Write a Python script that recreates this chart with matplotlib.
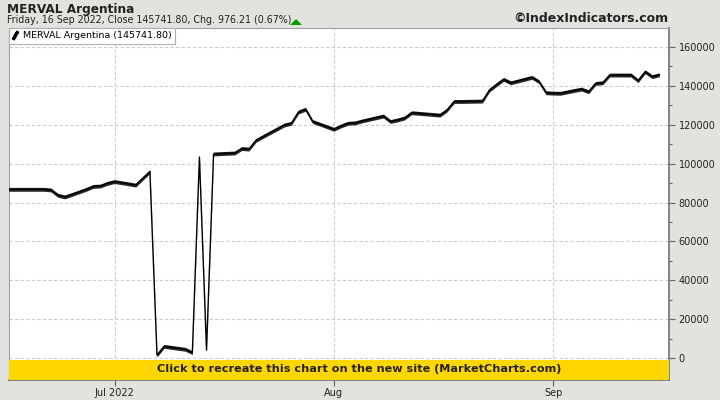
import numpy as np
import matplotlib
matplotlib.use("Agg")
import matplotlib.pyplot as plt
from matplotlib.lines import Line2D
from matplotlib.patches import Rectangle, Polygon

dates = ["2022-06-16","2022-06-21","2022-06-22","2022-06-23","2022-06-24",
         "2022-06-27","2022-06-28","2022-06-29","2022-06-30","2022-07-01",
         "2022-07-04","2022-07-05","2022-07-06","2022-07-07","2022-07-08",
         "2022-07-11","2022-07-12","2022-07-13","2022-07-14","2022-07-15",
         "2022-07-18","2022-07-19","2022-07-20","2022-07-21","2022-07-22",
         "2022-07-25","2022-07-26","2022-07-27","2022-07-28","2022-07-29",
         "2022-08-01","2022-08-02","2022-08-03","2022-08-04","2022-08-05",
         "2022-08-08","2022-08-09","2022-08-10","2022-08-11","2022-08-12",
         "2022-08-16","2022-08-17","2022-08-18","2022-08-19",
         "2022-08-22","2022-08-23","2022-08-24","2022-08-25","2022-08-26",
         "2022-08-29","2022-08-30","2022-08-31","2022-09-01","2022-09-02",
         "2022-09-05","2022-09-06","2022-09-07","2022-09-08","2022-09-09",
         "2022-09-12","2022-09-13","2022-09-14","2022-09-15","2022-09-16"]
values = [86800, 86800, 86500, 83700, 82900,
          86800, 88300, 88500, 89900, 90800,
          89000, 92500, 95900, 1500, 6000,
          4500, 2800, 103400, 4100, 105000,
          105500, 107800, 107500, 112000, 114000,
          119900, 120800, 126600, 128000, 121700,
          117700, 119400, 120800, 121000, 122000,
          124500, 121700, 122500, 123500, 126200,
          125000, 127600, 132000, 132000,
          132200, 137900, 140700, 143400, 141600,
          144400, 142200, 136500, 136300, 136200,
          138400, 137000, 141300, 141600, 145600,
          145600, 142700, 147300, 144766, 145742]

title = "MERVAL Argentina"
subtitle = "Friday, 16 Sep 2022, Close 145741.80, Chg. 976.21 (0.67%)"
legend_label = "MERVAL Argentina (145741.80)"
y_ticks = [0, 20000, 40000, 60000, 80000, 100000, 120000, 140000, 160000]
x_tick_dates = ["2022-07-01", "2022-08-01", "2022-09-01"]
x_tick_labels = ["Jul 2022", "Aug", "Sep"]

x = np.array(dates, dtype="datetime64[D]").astype("datetime64[h]")
y = np.array(values, dtype=float)

fig = plt.figure(figsize=(7.2, 4.0), dpi=100)
fig.patch.set_facecolor("#e2e2de")
ax = fig.add_axes([9/720, 1 - 380/400, 660/720, 352/400])
ax.set_facecolor("white")

ax.set_ylim(-11300, 169800)
ax.set_xlim(np.datetime64("2022-06-16T02", "h"), np.datetime64("2022-09-17T09", "h"))

ax.grid(True, color="#cccccc", linestyle=(0, (3, 2)), linewidth=0.8)
ax.set_axisbelow(True)

# calligraphic ribbon line
d = 1000
ax.fill_between(x, y - d, y + d, color="#262626", linewidth=0, zorder=3)
ax.plot(x, y, color="black", linewidth=1.0, zorder=4)

# y axis right
ax.yaxis.tick_right()
ax.set_yticks(y_ticks)
ax.set_yticklabels([str(v) for v in y_ticks])
ax.set_yticks(np.arange(10000, 170000, 20000), minor=True)
ax.tick_params(axis="y", which="major", length=4, width=0.8, color="#666666",
               labelsize=7, labelcolor="#222222", pad=3)
ax.tick_params(axis="y", which="minor", length=2, width=0.8, color="#666666")
ax.set_xticks(np.array(x_tick_dates, dtype="datetime64[D]").astype("datetime64[h]"))
ax.set_xticklabels(x_tick_labels)
ax.tick_params(axis="x", length=4, width=0.8, color="#666666", labelsize=7,
               labelcolor="#222222", pad=2)

for s in ["top", "left"]:
    ax.spines[s].set_color("#a0a0a0")
    ax.spines[s].set_linewidth(0.8)
for s in ["right", "bottom"]:
    ax.spines[s].set_color("#707070")
    ax.spines[s].set_linewidth(1.2)

# yellow banner
ax.add_patch(Rectangle((0, 0), 1, 20/352, transform=ax.transAxes, facecolor="#ffd700",
                       edgecolor="none", zorder=5))
fig.text(359/720, 1 - 369/400, "Click to recreate this chart on the new site (MarketCharts.com)",
         ha="center", va="center", fontsize=8.1, fontweight="bold", color="#222222", zorder=6)

# legend
h = Line2D([], [], color="black", linestyle="none", marker=(2, 2, -30),
           markersize=7, markeredgewidth=2.2)
leg = ax.legend([h], [legend_label], loc="upper left", bbox_to_anchor=(0, 1),
                borderaxespad=0, fancybox=False, framealpha=1, edgecolor="#b0b0b0",
                fontsize=6.8, handlelength=0.6, handletextpad=0.5, borderpad=0.35)
leg.get_frame().set_linewidth(0.8)
leg.set_zorder(7)

# header texts
fig.text(7/720, 1 - 9/400, title, fontsize=8.7, fontweight="bold", color="#222222",
         va="center", ha="left")
fig.text(7/720, 1 - 20/400, subtitle, fontsize=6.85, color="#222222", va="center", ha="left")
fig.text(668/720, 1 - 19/400, "©IndexIndicators.com", fontsize=9, fontweight="bold",
         color="#222222", va="center", ha="right")
fig.patches.append(Polygon([[290/720, 1 - 25/400], [302/720, 1 - 25/400], [296/720, 1 - 19/400]],
                           closed=True, transform=fig.transFigure, facecolor="#00a000",
                           edgecolor="none"))

fig.savefig("out.png", dpi=100, facecolor=fig.get_facecolor())
